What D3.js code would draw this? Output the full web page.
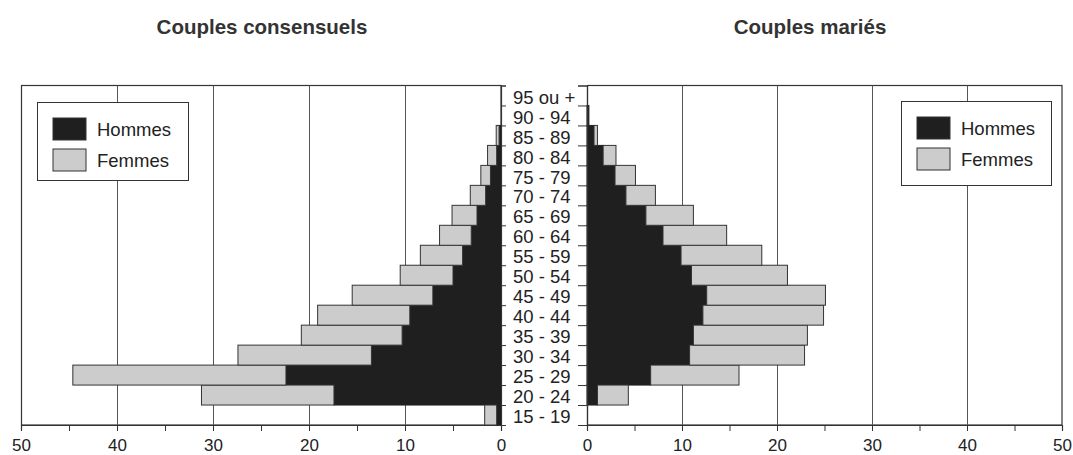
<!DOCTYPE html>
<html>
<head>
<meta charset="utf-8">
<script src="https://cdn.jsdelivr.net/npm/d3@7"></script>
<style>
  html, body { margin: 0; padding: 0; background: #fff; }
  svg { display: block; font-family: "Liberation Sans", Arial, sans-serif; }
</style>
</head>
<body>
<svg id="chart" width="1073" height="455"></svg>
<script>
// ---- data ----
const ages = ["15 - 19","20 - 24","25 - 29","30 - 34","35 - 39","40 - 44","45 - 49","50 - 54",
              "55 - 59","60 - 64","65 - 69","70 - 74","75 - 79","80 - 84","85 - 89","90 - 94","95 ou +"];
const consHommes = [0.45, 17.4, 22.4, 13.5, 10.3, 9.5, 7.1, 5.0, 4.0, 3.1, 2.5, 1.6, 1.1, 0.45, 0.2, 0, 0];
const consFemmes = [1.25, 13.8, 22.2, 13.9, 10.5, 9.6, 8.4, 5.5, 4.4, 3.3, 2.6, 1.6, 1.0, 0.95, 0.3, 0, 0];
const marHommes  = [0, 1.1, 6.7, 10.8, 11.2, 12.2, 12.6, 11.0, 9.9, 8.0, 6.2, 4.1, 2.95, 1.7, 0.74, 0.2, 0];
const marFemmes  = [0, 3.25, 9.3, 12.1, 12.0, 12.7, 12.5, 10.1, 8.5, 6.7, 5.0, 3.1, 2.15, 1.35, 0.36, 0, 0];
const xTicks = [0, 5, 10, 15, 20, 25, 30, 35, 40, 45, 50];
const gridValues = [10, 20, 30, 40];
const seriesNames = ["Hommes", "Femmes"];
const titles = ["Couples consensuels", "Couples mariés"];

// ---- style ----
const cDark = "#1f1f1f", cLight = "#cccccc", cLine = "#333333", cText = "#222222";

const svg = d3.select("#chart");
const yTop = 85.5, yBottom = 425;

const y = d3.scaleBand().domain(ages.slice().reverse()).range([yTop, yBottom]).padding(0);
const yIdx = d3.scaleLinear().domain([0, ages.length]).range([yBottom, yTop]);

const panels = [
  { x: d3.scaleLinear().domain([0, 50]).range([501, 21]), h: consHommes, f: consFemmes, title: titles[0], tcx: 262,
    legend: { x: 37, y: 102, w: 151, h: 78 }, axisSide: "right" },
  { x: d3.scaleLinear().domain([0, 50]).range([587, 1062]), h: marHommes, f: marFemmes, title: titles[1], tcx: 810,
    legend: { x: 901, y: 101, w: 150, h: 84 }, axisSide: "left" }
];

panels.forEach(p => {
  const x = p.x;
  const g = svg.append("g");
  const x0 = x(0), x50 = x(50);
  const xl = Math.min(x0, x50), xr = Math.max(x0, x50);

  // frame
  g.append("rect").attr("x", xl + 0.5).attr("y", yTop).attr("width", xr - xl - 0.5).attr("height", yBottom - yTop)
    .attr("fill", "#fff").attr("stroke", cLine).attr("stroke-width", 1.2);

  // grid
  g.selectAll(".grid").data(gridValues).join("line")
    .attr("x1", d => Math.round(x(d)) + 0.5).attr("x2", d => Math.round(x(d)) + 0.5)
    .attr("y1", yTop).attr("y2", yBottom)
    .attr("stroke", "#555").attr("stroke-width", 1);

  // bars: Hommes from 0, Femmes stacked outward
  const data = ages.map((a, i) => ({ age: a, h: p.h[i], f: p.f[i] }));
  g.selectAll(".bh").data(data.filter(d => d.h > 0)).join("rect")
    .attr("x", d => Math.min(x(0), x(d.h)))
    .attr("width", d => Math.abs(x(d.h) - x(0)))
    .attr("y", d => y(d.age)).attr("height", y.bandwidth())
    .attr("fill", cDark).attr("stroke", cDark).attr("stroke-width", 1);
  g.selectAll(".bf").data(data.filter(d => d.f > 0)).join("rect")
    .attr("x", d => Math.min(x(d.h), x(d.h + d.f)))
    .attr("width", d => Math.abs(x(d.h + d.f) - x(d.h)))
    .attr("y", d => y(d.age)).attr("height", y.bandwidth())
    .attr("fill", cLight).attr("stroke", cLine).attr("stroke-width", 1);

  // bottom axis
  const ax = g.append("g").attr("transform", `translate(0,${yBottom})`)
    .call(d3.axisBottom(x).tickValues(xTicks).tickSize(6)
      .tickFormat(d => d % 10 === 0 ? d : ""));
  ax.select(".domain").attr("stroke", cLine).attr("stroke-width", 1.2);
  ax.selectAll(".tick line").attr("stroke", cLine);
  ax.selectAll(".tick text").attr("font-size", 17).attr("fill", cText).attr("y", 25.5).attr("dy", 0)
    .attr("font-family", "'Liberation Sans', Arial, sans-serif");

  // vertical centre axis
  const vaxis = p.axisSide === "right"
    ? d3.axisRight(yIdx).tickSize(5)
    : d3.axisLeft(yIdx).tickSize(9);
  const va = g.append("g").attr("transform", `translate(${x0},0)`)
    .call(vaxis.tickValues(d3.range(ages.length + 1)).tickFormat(""));
  va.select(".domain").attr("stroke", cLine).attr("stroke-width", 1.2);
  va.selectAll(".tick line").attr("stroke", cLine);

  // title
  svg.append("text").attr("x", p.tcx).attr("y", 34).attr("text-anchor", "middle")
    .attr("font-size", 20.5).attr("font-weight", "bold").attr("fill", "#333").text(p.title);

  // legend
  const L = p.legend;
  const lg = svg.append("g");
  lg.append("rect").attr("x", L.x + 0.5).attr("y", L.y + 0.5).attr("width", L.w).attr("height", L.h)
    .attr("fill", "#fff").attr("stroke", cLine).attr("stroke-width", 1);
  seriesNames.forEach((s, i) => {
    const sy = L.y + 16 + i * 31;
    lg.append("rect").attr("x", L.x + 16).attr("y", sy).attr("width", 33).attr("height", 22)
      .attr("fill", i === 0 ? cDark : cLight).attr("stroke", cLine).attr("stroke-width", 1);
    lg.append("text").attr("x", L.x + 60).attr("y", sy + 11).attr("dy", "0.36em")
      .attr("font-size", 18.5).attr("fill", cText).text(s);
  });
});

// centre age labels
svg.selectAll(".agelab").data(ages).join("text")
  .attr("x", 513).attr("y", d => y(d) + y.bandwidth() / 2 + 1.5).attr("dy", "0.36em")
  .attr("font-size", 18.5).attr("fill", cText).text(d => d);
</script>
</body>
</html>
